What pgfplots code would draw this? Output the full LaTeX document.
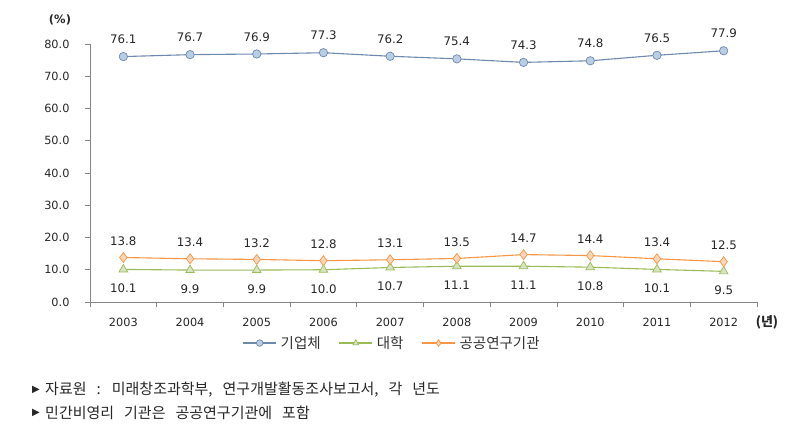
\documentclass[border=0pt]{standalone}
\usepackage{fontspec}
\setmainfont{DejaVu Sans}
\newfontfamily\kr{Noto Sans CJK KR}
\usepackage{pgfplots}
\pgfplotsset{compat=1.18}
\definecolor{bline}{HTML}{6F89AE}
\definecolor{bfill}{HTML}{B9CDE5}
\definecolor{gline}{HTML}{9BBB59}
\definecolor{gfill}{HTML}{D7E4BD}
\definecolor{oline}{HTML}{F79646}
\definecolor{ofill}{HTML}{FCD5B5}
\definecolor{axgray}{HTML}{868686}
\begin{document}
\begin{tikzpicture}[x=1pt,y=1pt]
\path[use as bounding box] (0,0) rectangle (793,432);
\begin{axis}[
  at={(90pt,130pt)}, anchor=south west,
  scale only axis, width=667pt, height=258pt,
  xmin=-0.5, xmax=9.5, ymin=0, ymax=80,
  axis x line=bottom, axis y line=left,
  axis line style={-, axgray, line width=0.8pt},
  xtick={0,...,9},
  xticklabels={2003,2004,2005,2006,2007,2008,2009,2010,2011,2012},
  minor xtick={-0.5,0.5,...,9.5},
  major x tick style={draw=none},
  minor tick length=5pt,
  minor x tick style={axgray, line width=0.8pt},
  ytick={0,10,...,80},
  major tick length=5pt,
  tick align=outside,
  y tick style={axgray, line width=0.8pt},
  yticklabel style={/pgf/number format/fixed, /pgf/number format/fixed zerofill, /pgf/number format/precision=1, xshift=-12pt},
  /pgf/number format/assume math mode=true,
  ticklabel style={font=\fontsize{11.3}{13}\selectfont, text=black!85},
  xticklabel style={yshift=-8pt},
  clip=false,
  nodes near coords,
  nodes near coords style={font=\fontsize{11.8}{13}\selectfont, text=black!85,
     /pgf/number format/fixed, /pgf/number format/fixed zerofill, /pgf/number format/precision=1},
  legend style={at={(0.453,-0.159)}, anchor=center, draw=none, legend columns=3,
     font=\kr\fontsize{14.5}{16}\selectfont, text=black!80,
     /tikz/every odd column/.append style={column sep=2pt},
     /tikz/every even column/.append style={column sep=16pt}},
  legend image code/.code={\draw[#1] (0pt,0pt) -- (33pt,0pt); \draw[#1, mark repeat=1, mark size=3.3pt] plot coordinates {(16.5pt,0pt)};},
]
\addplot[bline, line width=1.1pt, mark=*, mark size=4.2pt, mark options={fill=bfill, draw=bline, line width=0.7pt},
  nodes near coords align={anchor=south}, every node near coord/.append style={yshift=9pt}]
  coordinates {(0,76.1)(1,76.7)(2,76.9)(3,77.3)(4,76.2)(5,75.4)(6,74.3)(7,74.8)(8,76.5)(9,77.9)};
\addlegendentry{기업체}
\addplot[gline, line width=1.1pt, mark=triangle*, mark size=5pt, mark options={fill=gfill, draw=gline, line width=0.7pt},
  nodes near coords align={anchor=north}, every node near coord/.append style={yshift=-11pt}]
  coordinates {(0,10.1)(1,9.9)(2,9.9)(3,10.0)(4,10.7)(5,11.1)(6,11.1)(7,10.8)(8,10.1)(9,9.5)};
\addlegendentry{대학}
\addplot[oline, line width=1.1pt, mark=diamond*, mark size=5pt, mark options={fill=ofill, draw=oline, line width=0.7pt},
  nodes near coords align={anchor=south}, every node near coord/.append style={yshift=8pt}]
  coordinates {(0,13.8)(1,13.4)(2,13.2)(3,12.8)(4,13.1)(5,13.5)(6,14.7)(7,14.4)(8,13.4)(9,12.5)};
\addlegendentry{공공연구기관}
\end{axis}
\node[font=\fontsize{11.5}{13}\selectfont\bfseries, text=black!85] at (60,412) {(\%)};
\node[font=\kr\fontsize{13}{14}\selectfont\bfseries, text=black!85] at (767,110) {(년)};
\node[anchor=west, inner sep=0pt, font=\fontsize{10}{12}\selectfont, text=black!85] at (32,42) {▶};
\node[anchor=west, inner sep=0pt, font=\kr\fontsize{15}{16}\selectfont, text=black!85] at (45,42) {\spaceskip=10pt 자료원 : 미래창조과학부, 연구개발활동조사보고서, 각 년도};
\node[anchor=west, inner sep=0pt, font=\fontsize{10}{12}\selectfont, text=black!85] at (32,19) {▶};
\node[anchor=west, inner sep=0pt, font=\kr\fontsize{15}{16}\selectfont, text=black!85] at (45,19) {\spaceskip=10pt 민간비영리 기관은 공공연구기관에 포함};
\end{tikzpicture}
\end{document}
